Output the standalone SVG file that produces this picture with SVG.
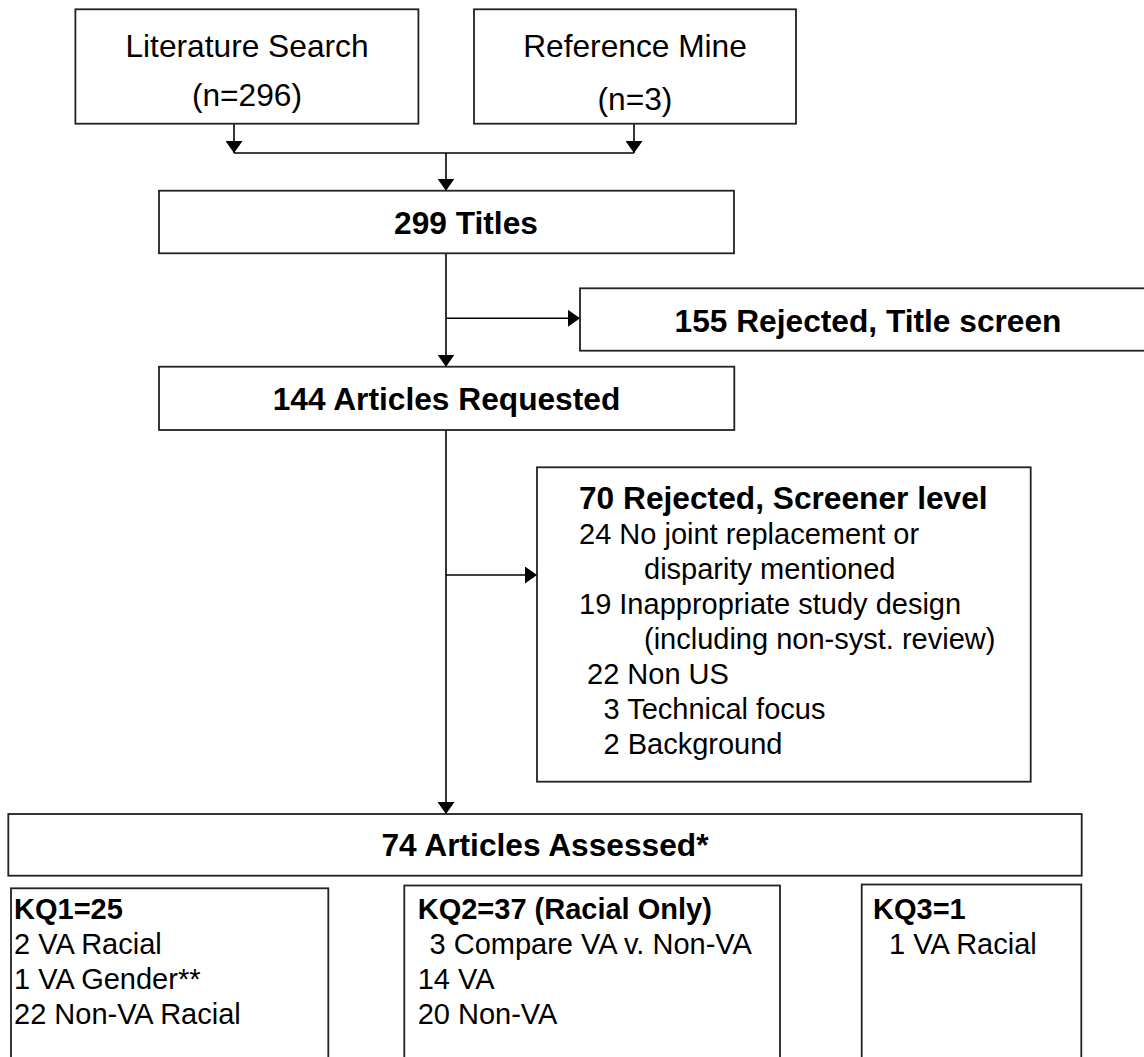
<svg xmlns="http://www.w3.org/2000/svg" width="1144" height="1057" viewBox="0 0 1144 1057">
<style>
.box{fill:#fff;stroke:#222;stroke-width:1.8}
.ln{fill:none;stroke:#000;stroke-width:1.6}
text{font-family:"Liberation Sans",Arial,Helvetica,sans-serif;fill:#000}
.big{font-size:31.7px}
.hb{font-size:31.7px;font-weight:bold}
.sm{font-size:29px}
.sb{font-size:29px;font-weight:bold}
.c{text-anchor:middle}
</style>
<defs>
<marker id="ah" markerUnits="userSpaceOnUse" viewBox="0 0 12 17" refX="12" refY="8.5" markerWidth="12" markerHeight="17" orient="auto">
<path d="M0,0 L12,8.5 L0,17 z" fill="#000"/>
</marker>
</defs>
<rect width="1144" height="1057" fill="#fff"/>
<g id="connectors">
<path class="ln" d="M234,124 V153" marker-end="url(#ah)"/>
<path class="ln" d="M634,124 V153" marker-end="url(#ah)"/>
<path class="ln" d="M234,153 H634"/>
<path class="ln" d="M446,153 V190.7" marker-end="url(#ah)"/>
<path class="ln" d="M446,253.3 V366.7" marker-end="url(#ah)"/>
<path class="ln" d="M446,318.3 H580" marker-end="url(#ah)"/>
<path class="ln" d="M446,430 V814" marker-end="url(#ah)"/>
<path class="ln" d="M446,575 H537" marker-end="url(#ah)"/>
</g>
<g id="lit">
<rect class="box" x="75.4" y="9.3" width="343" height="114.4"/>
<text class="big c" x="247" y="56.7">Literature Search</text>
<text class="big c" x="247" y="106">(n=296)</text>
</g>
<g id="ref">
<rect class="box" x="474" y="9.3" width="322" height="114.4"/>
<text class="big c" x="635" y="56.7">Reference Mine</text>
<text class="big c" x="635" y="110">(n=3)</text>
</g>
<g id="titles">
<rect class="box" x="159" y="190.7" width="575" height="62.6"/>
<text class="hb c" x="466" y="233.5">299 Titles</text>
</g>
<g id="rej155">
<rect class="box" x="580" y="288.3" width="600" height="62.4"/>
<text class="hb c" x="868" y="331.5">155 Rejected, Title screen</text>
</g>
<g id="req144">
<rect class="box" x="159" y="366.7" width="575.3" height="63.3"/>
<text class="hb c" x="446.5" y="410">144 Articles Requested</text>
</g>
<g id="rej70">
<rect class="box" x="537" y="467.3" width="493.7" height="314.4"/>
<text class="hb" x="579" y="508.5">70 Rejected, Screener level</text>
<text class="sm" x="579" y="543.5">24 No joint replacement or</text>
<text class="sm" x="644" y="578.5">disparity mentioned</text>
<text class="sm" x="579" y="613.5">19 Inappropriate study design</text>
<text class="sm" x="644" y="649">(including non-syst. review)</text>
<text class="sm" x="587" y="684">22 Non US</text>
<text class="sm" x="603.5" y="719">3 Technical focus</text>
<text class="sm" x="603.5" y="754">2 Background</text>
</g>
<g id="assessed74">
<rect class="box" x="8.3" y="814" width="1073.4" height="61.7"/>
<text class="hb c" x="545" y="856">74 Articles Assessed*</text>
</g>
<g id="kq1">
<rect class="box" x="11" y="888.3" width="317.3" height="200"/>
<text class="sb" x="14" y="919">KQ1=25</text>
<text class="sm" x="14" y="954">2 VA Racial</text>
<text class="sm" x="14" y="989">1 VA Gender**</text>
<text class="sm" x="14" y="1023.5">22 Non-VA Racial</text>
</g>
<g id="kq2">
<rect class="box" x="404.3" y="885.5" width="375.7" height="200"/>
<text class="sb" x="417.7" y="919">KQ2=37 (Racial Only)</text>
<text class="sm" x="429.5" y="954">3 Compare VA v. Non-VA</text>
<text class="sm" x="417.7" y="989">14 VA</text>
<text class="sm" x="417.7" y="1023.5">20 Non-VA</text>
</g>
<g id="kq3">
<rect class="box" x="861.7" y="884.5" width="219.6" height="200"/>
<text class="sb" x="873" y="919">KQ3=1</text>
<text class="sm" x="889" y="954">1 VA Racial</text>
</g>
</svg>
